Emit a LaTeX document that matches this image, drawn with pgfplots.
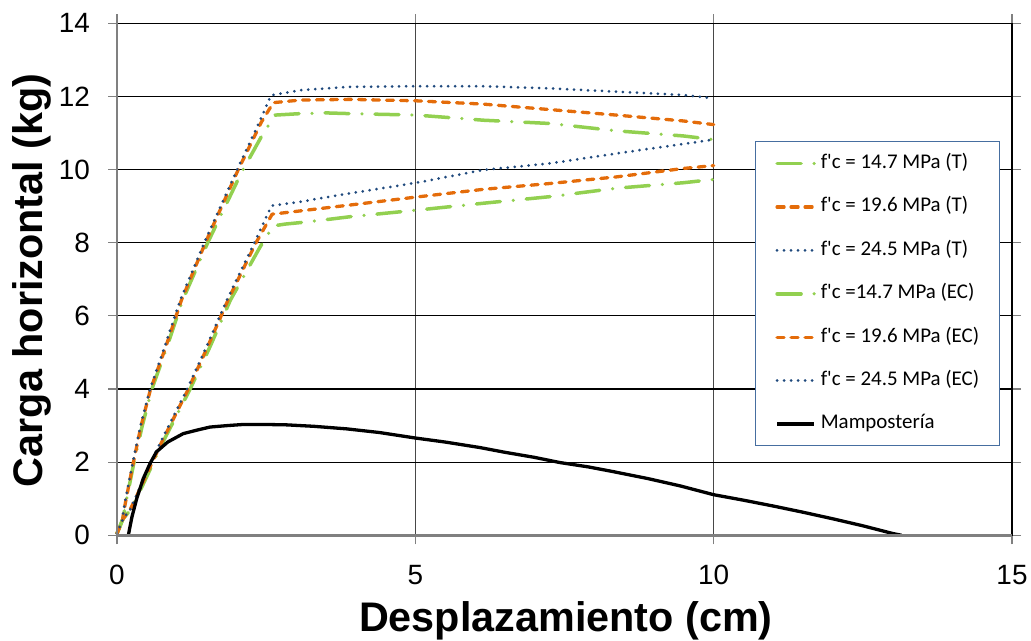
\documentclass[border=0pt]{standalone}
\usepackage{fontspec}
\setmainfont{Liberation Sans}
\newfontfamily\legfont{Carlito}
\usepackage{pgfplots}
\pgfplotsset{compat=1.18}
\definecolor{cgreen}{RGB}{146,208,80}
\definecolor{corange}{RGB}{228,108,10}
\definecolor{cblue}{RGB}{31,73,125}
\definecolor{legborder}{RGB}{70,110,160}
\pgfplotsset{
  sgreen/.style={color=cgreen, line width=3.5bp, dash pattern=on 24bp off 13bp on 0bp off 13bp, line cap=round, line join=round},
  sorange/.style={color=corange, line width=3.3bp, dash pattern=on 7bp off 7bp, line cap=round, line join=round},
  sblue/.style={color=cblue, line width=3bp, dash pattern=on 0bp off 7bp, line cap=round, line join=round},
  sblack/.style={color=black, line width=3.3bp, solid, line join=round},
}
\begin{document}
\begin{tikzpicture}
\begin{axis}[
  scale only axis, width=895bp, height=512bp,
  xmin=0, xmax=15, ymin=0, ymax=14,
  xtick={0,5,10,15}, ytick={0,2,...,14},
  grid=major,
  x grid style={draw=black!72, line width=1.6bp},
  y grid style={draw=black, line width=1.1bp},
  axis line style={draw=black, line width=1.5bp},
  tick align=outside, major tick length=9bp,
  tick style={draw=gray, line width=1.2bp},
  /pgf/number format/assume math mode=true,
  ticklabel style={font=\fontsize{28}{30}\selectfont},
  yticklabel style={anchor=east, inner sep=0pt, xshift=-18bp},
  xticklabel style={anchor=north, inner sep=0pt, yshift=-20.5bp},
  xlabel={Desplazamiento (cm)}, ylabel={Carga horizontal (kg)},
  every axis x label/.style={at={(axis description cs:0.5015,-0.188)}, anchor=base, font=\bfseries\fontsize{41.5}{44}\selectfont},
  every axis y label/.style={at={(axis description cs:-0.0827,0.498)}, anchor=base, rotate=90, font=\bfseries\fontsize{41.5}{44}\selectfont},
  clip=false,
  legend style={at={(axis cs:10.69,10.78)}, anchor=north west, draw=legborder, line width=1bp, fill=white,
    inner xsep=20bp, inner ysep=12bp, font=\legfont\fontsize{21}{24}\selectfont,
    row sep=23.4bp, column sep=5bp, nodes={inner sep=0pt, text height=15bp, text depth=5bp}},
  legend cell align=left,
  legend image code/.code={\draw[#1] (0bp,0bp) -- (37bp,0bp);},
]
\coordinate (ll) at (rel axis cs:0,0);
\coordinate (ur) at (rel axis cs:1,1);
% T curves
\addplot[sgreen] coordinates {(0,0.05) (0.1,0.45) (0.15,0.9) (0.27,1.88) (0.42,2.97) (0.58,3.98) (0.82,5.07) (1.1,6.43) (1.52,8.0) (2.08,9.9) (2.45,10.99) (2.65,11.49) (3.07,11.53) (3.5,11.55) (3.9,11.53) (5.02,11.49) (6.14,11.35) (7.26,11.26) (8.37,11.06) (9.49,10.92) (10,10.82)};
\addlegendentry{f'c = 14.7 MPa (T)}
\addplot[sorange] coordinates {(0,0.05) (0.09,0.4) (0.14,0.88) (0.26,1.88) (0.4,2.97) (0.56,3.98) (0.8,5.07) (1.08,6.43) (1.49,8.03) (2.03,9.99) (2.42,11.3) (2.62,11.83) (3.07,11.9) (3.9,11.92) (5.02,11.88) (6.14,11.79) (7.26,11.64) (8.37,11.49) (9.49,11.33) (10,11.23)};
\addlegendentry{f'c = 19.6 MPa (T)}
\addplot[sblue] coordinates {(0,0.05) (0.08,0.38) (0.13,0.88) (0.25,1.88) (0.39,2.97) (0.55,3.98) (0.78,5.07) (1.06,6.43) (1.47,8.03) (2.01,9.99) (2.4,11.35) (2.58,12.03) (3.07,12.17) (3.85,12.26) (5.0,12.28) (6.14,12.28) (7.26,12.22) (8.37,12.13) (9.49,12.04) (10,11.95)};
\addlegendentry{f'c = 24.5 MPa (T)}
% EC curves
\addplot[sgreen] coordinates {(0,0.05) (0.1,0.45) (0.23,0.7) (0.32,1.0) (0.42,1.33) (0.76,2.52) (1.22,3.98) (1.56,5.16) (1.9,6.43) (2.4,7.89) (2.62,8.46) (2.82,8.51) (3.07,8.55) (3.45,8.62) (3.9,8.71) (5.02,8.89) (6.14,9.08) (7.26,9.26) (8.37,9.49) (9.49,9.64) (10,9.73)};
\addlegendentry{f'c =14.7 MPa (EC)}
\addplot[sorange] coordinates {(0,0.05) (0.1,0.45) (0.22,0.7) (0.31,1.0) (0.4,1.33) (0.74,2.52) (1.19,3.98) (1.52,5.16) (1.86,6.43) (2.33,8.0) (2.6,8.78) (3.07,8.87) (3.9,9.03) (5.02,9.25) (6.14,9.46) (7.26,9.62) (8.37,9.8) (9.49,10.03) (10,10.11)};
\addlegendentry{f'c = 19.6 MPa (EC)}
\addplot[sblue] coordinates {(0,0.05) (0.1,0.45) (0.22,0.7) (0.3,1.0) (0.39,1.33) (0.72,2.52) (1.17,3.98) (1.5,5.16) (1.84,6.43) (2.31,8.03) (2.59,9.01) (3.07,9.12) (3.9,9.35) (5.02,9.64) (6.14,9.99) (7.26,10.17) (8.37,10.44) (9.49,10.7) (10,10.82)};
\addlegendentry{f'c = 24.5 MPa (EC)}
\addplot[sblack] coordinates {(0.19,0) (0.25,0.5) (0.33,1.0) (0.44,1.55) (0.55,1.95) (0.66,2.28) (0.85,2.55) (1.11,2.78) (1.35,2.88) (1.56,2.96) (1.85,3.0) (2.11,3.03) (2.5,3.03) (2.84,3.02) (3.3,2.98) (3.85,2.91) (4.4,2.81) (5.0,2.66) (5.5,2.55) (6.08,2.4) (6.5,2.27) (7.0,2.13) (7.42,1.99) (7.9,1.87) (8.32,1.74) (8.9,1.55) (9.44,1.35) (10.0,1.11) (10.5,0.96) (11.0,0.8) (11.5,0.63) (12.0,0.45) (12.5,0.26) (13.0,0.05) (13.15,0)};
\addlegendentry{Mampostería}
\draw[draw=gray, line width=2.5bp] (rel axis cs:0,1) -- (rel axis cs:0,0) -- (rel axis cs:1,0);
\end{axis}
\pgfresetboundingbox
\path (ll) ++(-117bp,-105.5bp) coordinate (bl);
\path (ur) ++(19bp,23.3bp) coordinate (tr);
\path[use as bounding box] (bl) rectangle (tr);
\end{tikzpicture}
\end{document}
